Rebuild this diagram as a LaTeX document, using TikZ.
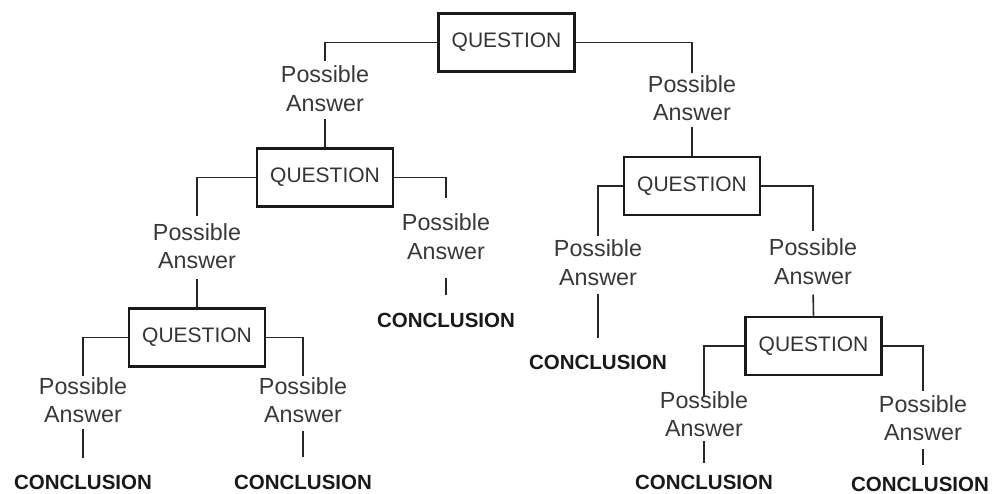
\documentclass[tikz,border=0pt]{standalone}
\usepackage{fontspec}
\setmainfont{Liberation Sans}
\begin{document}
\begin{tikzpicture}[x=1pt,y=-1pt,
 qbox/.style={draw=black!90, line width=2.8pt, minimum width=136pt, minimum height=58pt, inner sep=0pt, font=\fontsize{21}{25}\selectfont, text=black!80},
 pans/.style={align=center, inner sep=0pt, font=\fontsize{23.3}{28.5}\selectfont, text=black!78},
 concl/.style={inner sep=0pt, font=\fontsize{20.5}{24}\selectfont\bfseries, text=black!90},
 link/.style={line width=1.6pt, draw=black!85}]
\useasboundingbox (0,0) rectangle (993,494);
% questions
\node[qbox] (q1) at (506.5,42.5) {QUESTION};
\node[qbox] (q2) at (325,177.5) {QUESTION};
\node[qbox] (q3) at (197,337.5) {QUESTION};
\node[qbox] (q4) at (692,186) {QUESTION};
\node[qbox] (q5) at (813.5,346) {QUESTION};
% possible answers
\node[pans] (pa1) at (325,88.5) {Possible\\Answer};
\node[pans] (pa2) at (692,98) {Possible\\Answer};
\node[pans] (pa3) at (197,246) {Possible\\Answer};
\node[pans] (pa4) at (446,236.5) {Possible\\Answer};
\node[pans] (pa5) at (83,400) {Possible\\Answer};
\node[pans] (pa6) at (303,400) {Possible\\Answer};
\node[pans] (pa7) at (598,262.5) {Possible\\Answer};
\node[pans] (pa8) at (813,261.5) {Possible\\Answer};
\node[pans] (pa9) at (704,414) {Possible\\Answer};
\node[pans] (pa10) at (923,418) {Possible\\Answer};
% conclusions
\node[concl] (c4) at (446,320) {CONCLUSION};
\node[concl] (c5) at (83,482) {CONCLUSION};
\node[concl] (c6) at (303,482) {CONCLUSION};
\node[concl] (c7) at (598,362) {CONCLUSION};
\node[concl] (c9) at (704,482) {CONCLUSION};
\node[concl] (c10) at (920,484) {CONCLUSION};
% connectors
\draw[link, shorten >=4pt] (q1.west) -| (pa1.north);
\draw[link, shorten <=7pt] (pa1.south) -- (q2.north);
\draw[link, shorten >=2pt] (q1.east) -| (pa2.north);
\draw[link, shorten <=6pt] (pa2.south) -- (q4.north);
\draw[link, shorten >=7pt] (q2.west) -| (pa3.north);
\draw[link, shorten <=10pt] (pa3.south) -- (q3.north);
\draw[link, shorten >=15pt] (q2.east) -| (pa4.north);
\draw[link, shorten <=18pt, shorten >=17.5pt] (pa4.south) -- (c4.north);
\draw[link, shorten >=1pt] (q3.west) -| (pa5.north);
\draw[link, shorten <=6pt, shorten >=16.5pt] (pa5.south) -- (c5.north);
\draw[link, shorten >=1pt] (q3.east) -| (pa6.north);
\draw[link, shorten <=8pt, shorten >=17.5pt] (pa6.south) -- (c6.north);
\draw[link, shorten >=3pt] (q4.west) -| (pa7.north);
\draw[link, shorten <=8pt, shorten >=16.5pt] (pa7.south) -- (c7.north);
\draw[link, shorten >=7pt] (q4.east) -| (pa8.north);
\draw[link, shorten <=10pt] (pa8.south) -- (q5.north);
\draw[link, shorten >=-5pt] (q5.west) -| (pa9.north);
\draw[link, shorten <=4pt, shorten >=11.5pt] (pa9.south) -- (c9.north);
\draw[link, shorten >=4pt] (q5.east) -| (pa10.north);
\draw[link, shorten <=8pt, shorten >=12pt] (pa10.south) -- (pa10.south |- c10.north);
\end{tikzpicture}
\end{document}
